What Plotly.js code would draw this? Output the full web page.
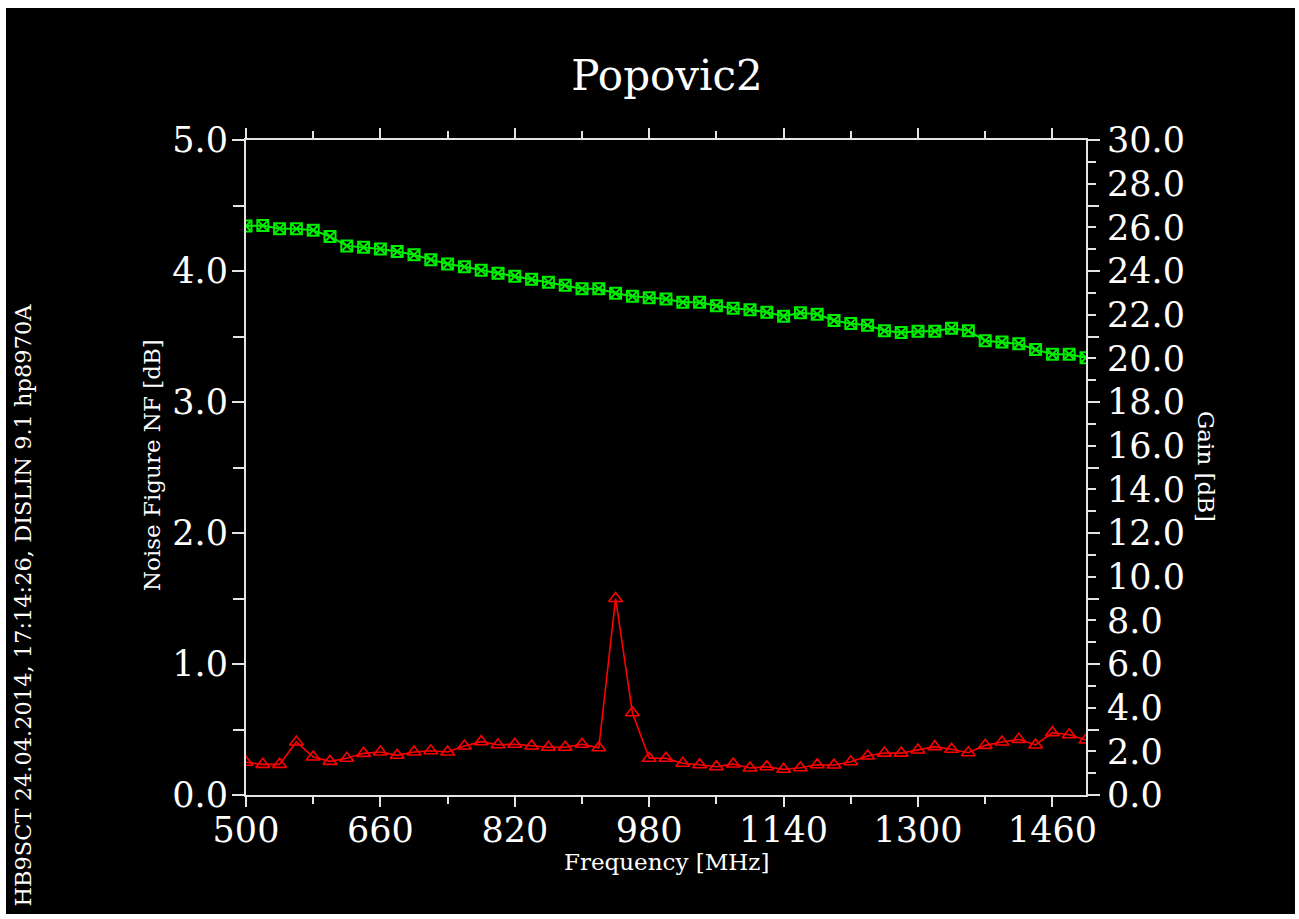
<!DOCTYPE html>
<html>
<head>
<meta charset="utf-8">
<script src="https://cdn.plot.ly/plotly-3.0.1.min.js"></script>
<style>
  html, body { margin: 0; padding: 0; background: #ffffff; width: 1299px; height: 919px; overflow: hidden; }
  #chart { position: absolute; left: 6px; top: 8px; width: 1289px; height: 906px; }
</style>
</head>
<body>
<div id="chart"></div>
<script>
// Frequency points [MHz]
const freq = [500, 520, 540, 560, 580, 600, 620, 640, 660, 680,
              700, 720, 740, 760, 780, 800, 820, 840, 860, 880,
              900, 920, 940, 960, 980, 1000, 1020, 1040, 1060, 1080,
              1100, 1120, 1140, 1160, 1180, 1200, 1220, 1240, 1260, 1280,
              1300, 1320, 1340, 1360, 1380, 1400, 1420, 1440, 1460, 1480, 1500];

// Noise figure NF [dB] (left axis)
const noiseFigure = [0.25, 0.234, 0.234, 0.405, 0.29, 0.257, 0.28, 0.318, 0.328, 0.303,
                     0.328, 0.338, 0.328, 0.374, 0.407, 0.384, 0.387, 0.374, 0.364, 0.364,
                     0.387, 0.361, 1.50, 0.628, 0.28, 0.28, 0.242, 0.231, 0.216, 0.237,
                     0.206, 0.216, 0.196, 0.208, 0.231, 0.229, 0.254, 0.298, 0.32, 0.32,
                     0.343, 0.369, 0.349, 0.323, 0.379, 0.405, 0.425, 0.382, 0.476, 0.46, 0.42];

// Gain [dB] (right axis)
const gain = [26.06, 26.08, 25.94, 25.93, 25.87, 25.58, 25.15, 25.09, 25.01, 24.89,
              24.74, 24.52, 24.32, 24.19, 24.03, 23.90, 23.76, 23.62, 23.49, 23.35,
              23.19, 23.19, 22.98, 22.84, 22.78, 22.72, 22.57, 22.57, 22.41, 22.29,
              22.22, 22.11, 21.93, 22.09, 22.02, 21.73, 21.59, 21.52, 21.26, 21.18,
              21.24, 21.24, 21.38, 21.26, 20.81, 20.75, 20.67, 20.40, 20.19, 20.19, 20.03];

const chartTitle = 'Popovic2';
const xTitle = 'Frequency [MHz]';
const yTitle = 'Noise Figure NF [dB]';
const y2Title = 'Gain [dB]';
const sideNote = 'HB9SCT 24.04.2014, 17:14:26, DISLIN 9.1 hp8970A';

const AX = '#e4e4e4';
const FONT = 'DejaVu Serif';

const traces = [
  {
    x: freq, y: noiseFigure, type: 'scatter', mode: 'lines+markers',
    line: { color: '#ff0000', width: 1.6 },
    marker: { symbol: 'triangle-up-open', size: 12, color: '#ff0000', line: { width: 1.6, color: '#ff0000' } },
    yaxis: 'y', showlegend: false, hoverinfo: 'x+y'
  },
  {
    x: freq, y: gain, type: 'scatter', mode: 'lines+markers',
    line: { color: '#00ee00', width: 2 },
    marker: { symbol: 'square-x-open', size: 11, color: '#00ee00', line: { width: 2, color: '#00ee00' } },
    yaxis: 'y2', showlegend: false, hoverinfo: 'x+y'
  }
];

const layout = {
  width: 1289, height: 906,
  paper_bgcolor: '#000000', plot_bgcolor: '#000000',
  margin: { l: 240, r: 209, t: 132, b: 119, pad: 0 },
  font: { family: FONT, color: '#ffffff' },
  title: {
    text: chartTitle, font: { family: FONT, size: 42, color: '#ffffff' },
    x: 0.5128, xanchor: 'center', xref: 'container',
    y: 0.926, yanchor: 'middle', yref: 'container'
  },
  xaxis: {
    range: [500, 1500], tick0: 500, dtick: 160,
    showgrid: false, zeroline: false,
    showline: true, linecolor: AX, linewidth: 2,
    mirror: 'ticks', ticks: 'outside', ticklen: 10, tickwidth: 2, tickcolor: AX,
    minor: { dtick: 80, tick0: 500, ticks: 'outside', ticklen: 7, tickwidth: 2, tickcolor: AX, showgrid: false },
    tickfont: { family: FONT, size: 35, color: '#ffffff' },
    ticklabelstandoff: -7
  },
  yaxis: {
    range: [0, 5], tick0: 0, dtick: 1, tickformat: '.1f',
    showgrid: false, zeroline: false,
    showline: true, linecolor: AX, linewidth: 2,
    mirror: 'ticks', ticks: 'outside', ticklen: 12, tickwidth: 2, tickcolor: AX,
    minor: { dtick: 0.5, tick0: 0, ticks: 'outside', ticklen: 11, tickwidth: 2, tickcolor: AX, showgrid: false },
    tickfont: { family: FONT, size: 35, color: '#ffffff' },
    ticklabelstandoff: -3
  },
  yaxis2: {
    range: [0, 30], tick0: 0, dtick: 2, tickformat: '.1f',
    overlaying: 'y', side: 'right', anchor: 'x',
    showgrid: false, zeroline: false,
    showline: true, linecolor: AX, linewidth: 2,
    ticks: 'outside', ticklen: 8, tickwidth: 2, tickcolor: AX,
    minor: { dtick: 1, tick0: 0, ticks: 'outside', ticklen: 8, tickwidth: 2, tickcolor: AX, showgrid: false },
    tickfont: { family: FONT, size: 35, color: '#ffffff' },
    ticklabelstandoff: 4
  },
  annotations: [
    { text: xTitle, xref: 'paper', yref: 'paper', x: 0.501, y: -0.1023,
      xanchor: 'center', yanchor: 'middle', showarrow: false,
      font: { family: FONT, size: 23, color: '#ffffff' } },
    { text: yTitle, xref: 'paper', yref: 'paper', x: -0.1119, y: 0.5038,
      xanchor: 'center', yanchor: 'middle', showarrow: false, textangle: -90,
      font: { family: FONT, size: 23, color: '#ffffff' } },
    { text: y2Title, xref: 'paper', yref: 'paper', x: 1.1429, y: 0.5023,
      xanchor: 'center', yanchor: 'middle', showarrow: false, textangle: 90,
      font: { family: FONT, size: 23, color: '#ffffff' } },
    { text: sideNote, xref: 'paper', yref: 'paper', x: -0.266, y: 0.290,
      xanchor: 'center', yanchor: 'middle', showarrow: false, textangle: -90,
      font: { family: FONT, size: 22.5, color: '#ffffff' } }
  ]
};

Plotly.newPlot('chart', traces, layout, { staticPlot: true, displayModeBar: false });
</script>
</body>
</html>
